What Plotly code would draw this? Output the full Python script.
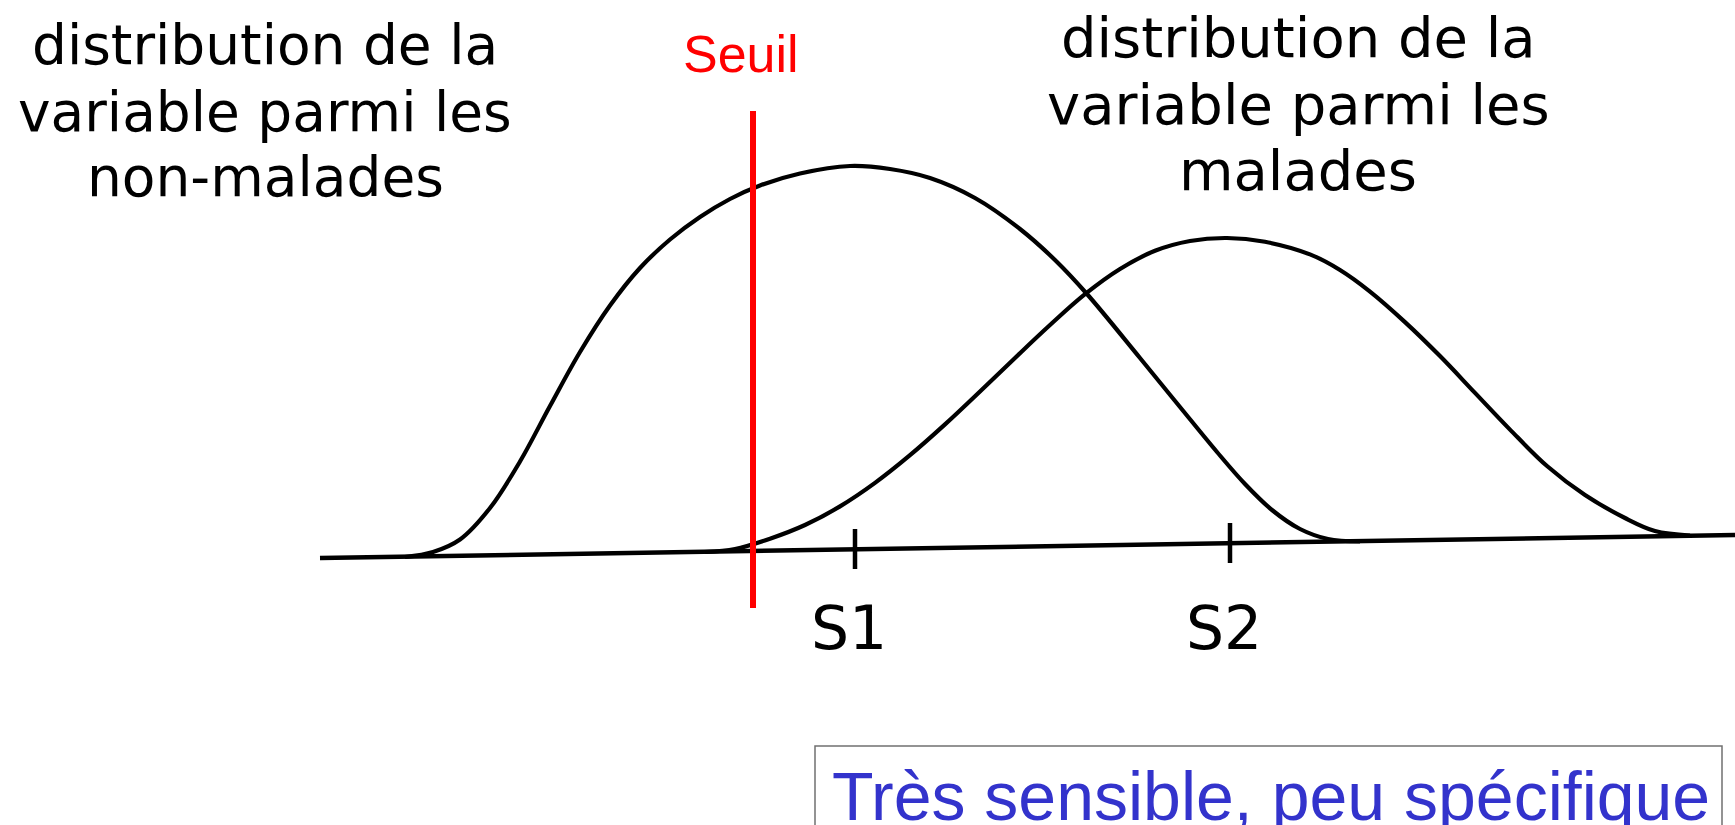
import plotly.graph_objects as go

# Curve data (horizontal position, vertical position; y axis points down)
nonmal_x = [405, 433, 460, 490, 520, 550, 580, 610, 640, 670, 700, 730, 760, 800, 850,
            890, 930, 975, 1020, 1055, 1087, 1140, 1180, 1217, 1245, 1272, 1300, 1328, 1360]
nonmal_y = [557, 552, 539.5, 508, 461.5, 406, 352, 305.5, 268, 239.5, 217, 199, 185.5, 173.5, 166,
            169, 178, 198, 229, 260, 294, 358, 407, 452, 484, 510, 529, 539, 541.5]

mal_x = [705, 735, 770, 805, 840, 875, 910, 945, 980, 1015, 1050, 1085, 1120, 1155, 1190, 1227,
         1265, 1310, 1340, 1370, 1405, 1440, 1475, 1510, 1547, 1585, 1625, 1655, 1690]
mal_y = [552, 549, 538.7, 525, 506.4, 482.9, 455.2, 424.4, 391.5, 357.9, 325, 294.2, 269, 250.8, 241, 238,
         241.8, 254.4, 270, 291.6, 322.1, 356.1, 392.9, 429.6, 466, 495, 518, 531, 535.5]

axis_x = [320, 1735]
axis_y = [558, 535]

tick_names = ["S1", "S2"]
tick_x = [855, 1230]
tick_base_y = [549, 543]

seuil_x = 753
seuil_span = [111, 608]

left_lines = ["distribution de la", "variable parmi les", "non-malades"]
right_lines = ["distribution de la", "variable parmi les", "malades"]
box_text = "Très sensible, peu spécifique"

fig = go.Figure()

fig.add_trace(go.Scatter(x=axis_x, y=axis_y, mode="lines",
                         line=dict(color="black", width=4.5), hoverinfo="skip"))
fig.add_trace(go.Scatter(x=nonmal_x, y=nonmal_y, mode="lines",
                         line=dict(color="black", width=4.2, shape="spline", smoothing=1.0),
                         hoverinfo="skip"))
fig.add_trace(go.Scatter(x=mal_x, y=mal_y, mode="lines",
                         line=dict(color="black", width=4.2, shape="spline", smoothing=1.0),
                         hoverinfo="skip"))

for tx, ty in zip(tick_x, tick_base_y):
    fig.add_trace(go.Scatter(x=[tx, tx], y=[ty - 20, ty + 20], mode="lines",
                             line=dict(color="black", width=4.5), hoverinfo="skip"))

fig.add_trace(go.Scatter(x=[seuil_x, seuil_x], y=seuil_span, mode="lines",
                         line=dict(color="#FF0000", width=6), hoverinfo="skip"))

ann = []
for name, tx in zip(tick_names, tick_x):
    ann.append(dict(x=tx - 6, y=628, text=name, showarrow=False, xanchor="center", yanchor="middle",
                    font=dict(family="DejaVu Sans", size=60, color="black")))

left_y = [45, 112, 177]
right_y = [37, 104, 170]
for t, yy in zip(left_lines, left_y):
    ann.append(dict(x=265, y=yy, text=t, showarrow=False, xanchor="center", yanchor="middle",
                    font=dict(family="DejaVu Sans", size=55, color="black")))
for t, yy in zip(right_lines, right_y):
    ann.append(dict(x=1298, y=yy, text=t, showarrow=False, xanchor="center", yanchor="middle",
                    font=dict(family="DejaVu Sans", size=56, color="black")))

ann.append(dict(x=741, y=54, text="Seuil", showarrow=False, xanchor="center", yanchor="middle",
                font=dict(family="Liberation Sans, Arial", size=52, color="#FF0000")))
ann.append(dict(x=830, y=796, text=box_text, showarrow=False, xanchor="left", yanchor="middle",
                font=dict(family="Liberation Sans, Arial", size=68, color="#3333CC")))

fig.add_shape(type="rect", x0=815, x1=1722, y0=746, y1=840,
              line=dict(color="#707070", width=1.5), fillcolor="rgba(0,0,0,0)")

fig.update_layout(
    width=1735, height=825,
    margin=dict(l=0, r=0, t=0, b=0),
    paper_bgcolor="white", plot_bgcolor="white",
    showlegend=False,
    annotations=ann,
    xaxis=dict(range=[0, 1735], visible=False, fixedrange=True),
    yaxis=dict(range=[825, 0], visible=False, fixedrange=True),
)

fig.write_html("out.html", config={"displayModeBar": False},
               post_script="document.body.style.margin='0';document.body.style.overflow='hidden';")
